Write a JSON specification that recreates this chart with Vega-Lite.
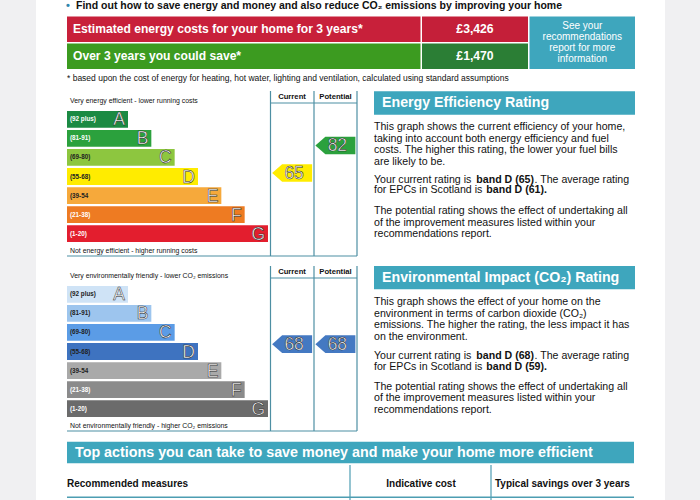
{
  "$schema": "https://vega.github.io/schema/vega-lite/v6.json",
  "width": 700,
  "height": 500,
  "autosize": {"type": "none"},
  "padding": 0,
  "background": "#f0f0f2",
  "config": {
    "view": {"stroke": null},
    "axis": {"disable": true},
    "legend": {"disable": true},
    "text": {"font": "Liberation Sans"},
    "locale": {"number": {"decimal": ".", "thousands": ",", "grouping": [3], "currency": ["£", ""]}}
  },
  "datasets": {
    "page": [{"document": "Energy Performance Certificate summary"}],
    "costs": [
      {"item": "Estimated energy costs for your home for 3 years*", "amount": 3426},
      {"item": "Over 3 years you could save*", "amount": 1470}
    ],
    "bands": [
      {"band": "A", "range": "(92 plus)", "rank": 1},
      {"band": "B", "range": "(81-91)", "rank": 2},
      {"band": "C", "range": "(69-80)", "rank": 3},
      {"band": "D", "range": "(55-68)", "rank": 4},
      {"band": "E", "range": "(39-54", "rank": 5},
      {"band": "F", "range": "(21-38)", "rank": 6},
      {"band": "G", "range": "(1-20)", "rank": 7}
    ],
    "energyRatings": [
      {"column": "Current", "rating": 65, "band": "D"},
      {"column": "Potential", "rating": 82, "band": "B"}
    ],
    "co2Ratings": [
      {"column": "Current", "rating": 68, "band": "D"},
      {"column": "Potential", "rating": 68, "band": "D"}
    ]
  },
  "resolve": {"scale": {"x": "independent", "y": "independent", "color": "independent", "fill": "independent"}},
  "layer": [
    {
      "data": {"name": "page"},
      "layer": [
        {"mark": {"type": "rect", "color": "#ffffff"}, "encoding": {
          "x": {"datum": 36, "type": "quantitative", "scale": {"domain": [0, 700], "range": [0, 700], "nice": false, "zero": false}},
          "x2": {"datum": 665},
          "y": {"datum": 0, "type": "quantitative", "scale": {"domain": [0, 500], "range": [0, 500], "nice": false, "zero": false}},
          "y2": {"datum": 500}}},
        {"mark": {"type": "text", "text": "•", "align": "left", "baseline": "middle", "fontSize": 11, "fontWeight": "bold", "color": "#2f86ad"}, "encoding": {"x": {"datum": 66}, "y": {"datum": 6}}},
        {"mark": {"type": "text", "text": "Find out how to save energy and money and also reduce CO₂ emissions by improving your home", "align": "left", "baseline": "middle", "fontSize": 10.5, "fontWeight": "bold", "color": "#111111"}, "encoding": {"x": {"datum": 76}, "y": {"datum": 6}}},
        {"mark": {"type": "rect", "color": "#3ea6bd"}, "encoding": {"x": {"datum": 529.5}, "x2": {"datum": 635}, "y": {"datum": 16.5}, "y2": {"datum": 69}}},
        {"mark": {"type": "text", "text": ["See your", "recommendations", "report for more", "information"], "align": "center", "baseline": "top", "fontSize": 10, "lineHeight": 11, "color": "#ffffff"}, "encoding": {"x": {"datum": 582.3}, "y": {"datum": 20.5}}},
        {"mark": {"type": "text", "text": "* based upon the cost of energy for heating, hot water, lighting and ventilation, calculated using standard assumptions", "align": "left", "baseline": "middle", "fontSize": 8.5, "color": "#111111"}, "encoding": {"x": {"datum": 67}, "y": {"datum": 78}}},

        {"mark": {"type": "rule", "color": "#4d8fa3", "strokeWidth": 1.2}, "encoding": {"x": {"datum": 270.5}, "y": {"datum": 91}, "y2": {"datum": 256}}},
        {"mark": {"type": "rule", "color": "#4d8fa3", "strokeWidth": 1.2}, "encoding": {"x": {"datum": 314}, "y": {"datum": 91}, "y2": {"datum": 256}}},
        {"mark": {"type": "rule", "color": "#4d8fa3", "strokeWidth": 1.2}, "encoding": {"x": {"datum": 357}, "y": {"datum": 91}, "y2": {"datum": 256}}},
        {"mark": {"type": "rule", "color": "#4d8fa3", "strokeWidth": 1.2}, "encoding": {"x": {"datum": 270.5}, "x2": {"datum": 357}, "y": {"datum": 103}}},
        {"mark": {"type": "rule", "color": "#4d8fa3", "strokeWidth": 1.2}, "encoding": {"x": {"datum": 67}, "x2": {"datum": 357}, "y": {"datum": 256}}},
        {"mark": {"type": "text", "text": "Current", "align": "center", "baseline": "middle", "fontSize": 7.7, "fontWeight": "bold", "color": "#111111"}, "encoding": {"x": {"datum": 292}, "y": {"datum": 97}}},
        {"mark": {"type": "text", "text": "Potential", "align": "center", "baseline": "middle", "fontSize": 7.7, "fontWeight": "bold", "color": "#111111"}, "encoding": {"x": {"datum": 335.5}, "y": {"datum": 97}}},
        {"mark": {"type": "text", "text": "Very energy efficient - lower running costs", "align": "left", "baseline": "middle", "fontSize": 6.9, "color": "#111111"}, "encoding": {"x": {"datum": 70}, "y": {"datum": 101}}},
        {"mark": {"type": "text", "text": "Not energy efficient - higher running costs", "align": "left", "baseline": "middle", "fontSize": 6.9, "color": "#111111"}, "encoding": {"x": {"datum": 70}, "y": {"datum": 251}}},
        {"mark": {"type": "rect", "color": "#3ea6bd"}, "encoding": {"x": {"datum": 374}, "x2": {"datum": 635}, "y": {"datum": 91.3}, "y2": {"datum": 114.7}}},
        {"mark": {"type": "text", "text": "Energy Efficiency Rating", "align": "left", "baseline": "middle", "fontSize": 14.2, "fontWeight": "bold", "color": "#ffffff"}, "encoding": {"x": {"datum": 382}, "y": {"datum": 103}}},
        {"mark": {"type": "text", "text": ["This graph shows the current efficiency of your home,", "taking into account both energy efficiency and fuel", "costs. The higher this rating, the lower your fuel bills", "are likely to be."], "align": "left", "baseline": "top", "fontSize": 10.6, "lineHeight": 11.6, "color": "#111111"}, "encoding": {"x": {"datum": 374}, "y": {"datum": 122}}},
        {"mark": {"type": "text", "text": "Your current rating is", "align": "left", "baseline": "middle", "fontSize": 10.6, "color": "#111111"}, "encoding": {"x": {"datum": 374}, "y": {"datum": 179.7}}},
        {"mark": {"type": "text", "text": "band D (65)", "align": "left", "baseline": "middle", "fontSize": 10.6, "fontWeight": "bold", "color": "#111111"}, "encoding": {"x": {"datum": 476.3}, "y": {"datum": 179.7}}},
        {"mark": {"type": "text", "text": ". The average rating", "align": "left", "baseline": "middle", "fontSize": 10.6, "color": "#111111"}, "encoding": {"x": {"datum": 534.5}, "y": {"datum": 179.7}}},
        {"mark": {"type": "text", "text": "for EPCs in Scotland is", "align": "left", "baseline": "middle", "fontSize": 10.6, "color": "#111111"}, "encoding": {"x": {"datum": 374}, "y": {"datum": 190.3}}},
        {"mark": {"type": "text", "text": "band D (61).", "align": "left", "baseline": "middle", "fontSize": 10.6, "fontWeight": "bold", "color": "#111111"}, "encoding": {"x": {"datum": 486.3}, "y": {"datum": 190.3}}},
        {"mark": {"type": "text", "text": ["The potential rating shows the effect of undertaking all", "of the improvement measures listed within your", "recommendations report."], "align": "left", "baseline": "top", "fontSize": 10.6, "lineHeight": 11.6, "color": "#111111"}, "encoding": {"x": {"datum": 374}, "y": {"datum": 206.2}}},

        {"mark": {"type": "rule", "color": "#4d8fa3", "strokeWidth": 1.2}, "encoding": {"x": {"datum": 270.5}, "y": {"datum": 266}, "y2": {"datum": 431}}},
        {"mark": {"type": "rule", "color": "#4d8fa3", "strokeWidth": 1.2}, "encoding": {"x": {"datum": 314}, "y": {"datum": 266}, "y2": {"datum": 431}}},
        {"mark": {"type": "rule", "color": "#4d8fa3", "strokeWidth": 1.2}, "encoding": {"x": {"datum": 357}, "y": {"datum": 266}, "y2": {"datum": 431}}},
        {"mark": {"type": "rule", "color": "#4d8fa3", "strokeWidth": 1.2}, "encoding": {"x": {"datum": 270.5}, "x2": {"datum": 357}, "y": {"datum": 278}}},
        {"mark": {"type": "rule", "color": "#4d8fa3", "strokeWidth": 1.2}, "encoding": {"x": {"datum": 67}, "x2": {"datum": 357}, "y": {"datum": 431}}},
        {"mark": {"type": "text", "text": "Current", "align": "center", "baseline": "middle", "fontSize": 7.7, "fontWeight": "bold", "color": "#111111"}, "encoding": {"x": {"datum": 292}, "y": {"datum": 272}}},
        {"mark": {"type": "text", "text": "Potential", "align": "center", "baseline": "middle", "fontSize": 7.7, "fontWeight": "bold", "color": "#111111"}, "encoding": {"x": {"datum": 335.5}, "y": {"datum": 272}}},
        {"mark": {"type": "text", "text": "Very environmentally friendly - lower CO₂ emissions", "align": "left", "baseline": "middle", "fontSize": 6.9, "color": "#111111"}, "encoding": {"x": {"datum": 70}, "y": {"datum": 276}}},
        {"mark": {"type": "text", "text": "Not environmentally friendly - higher CO₂ emissions", "align": "left", "baseline": "middle", "fontSize": 6.9, "color": "#111111"}, "encoding": {"x": {"datum": 70}, "y": {"datum": 426}}},
        {"mark": {"type": "rect", "color": "#3ea6bd"}, "encoding": {"x": {"datum": 374}, "x2": {"datum": 635}, "y": {"datum": 266}, "y2": {"datum": 289.3}}},
        {"mark": {"type": "text", "text": "Environmental Impact (CO₂) Rating", "align": "left", "baseline": "middle", "fontSize": 14.2, "fontWeight": "bold", "color": "#ffffff"}, "encoding": {"x": {"datum": 382}, "y": {"datum": 277.7}}},
        {"mark": {"type": "text", "text": ["This graph shows the effect of your home on the", "environment in terms of carbon dioxide (CO₂)", "emissions. The higher the rating, the less impact it has", "on the environment."], "align": "left", "baseline": "top", "fontSize": 10.6, "lineHeight": 11.6, "color": "#111111"}, "encoding": {"x": {"datum": 374}, "y": {"datum": 297}}},
        {"mark": {"type": "text", "text": "Your current rating is", "align": "left", "baseline": "middle", "fontSize": 10.6, "color": "#111111"}, "encoding": {"x": {"datum": 374}, "y": {"datum": 356}}},
        {"mark": {"type": "text", "text": "band D (68)", "align": "left", "baseline": "middle", "fontSize": 10.6, "fontWeight": "bold", "color": "#111111"}, "encoding": {"x": {"datum": 476.3}, "y": {"datum": 356}}},
        {"mark": {"type": "text", "text": ". The average rating", "align": "left", "baseline": "middle", "fontSize": 10.6, "color": "#111111"}, "encoding": {"x": {"datum": 534.5}, "y": {"datum": 356}}},
        {"mark": {"type": "text", "text": "for EPCs in Scotland is", "align": "left", "baseline": "middle", "fontSize": 10.6, "color": "#111111"}, "encoding": {"x": {"datum": 374}, "y": {"datum": 366.5}}},
        {"mark": {"type": "text", "text": "band D (59).", "align": "left", "baseline": "middle", "fontSize": 10.6, "fontWeight": "bold", "color": "#111111"}, "encoding": {"x": {"datum": 486.3}, "y": {"datum": 366.5}}},
        {"mark": {"type": "text", "text": ["The potential rating shows the effect of undertaking all", "of the improvement measures listed within your", "recommendations report."], "align": "left", "baseline": "top", "fontSize": 10.6, "lineHeight": 11.6, "color": "#111111"}, "encoding": {"x": {"datum": 374}, "y": {"datum": 381.5}}},

        {"mark": {"type": "rect", "color": "#3ea6bd"}, "encoding": {"x": {"datum": 67}, "x2": {"datum": 634}, "y": {"datum": 441.7}, "y2": {"datum": 463.3}}},
        {"mark": {"type": "text", "text": "Top actions you can take to save money and make your home more efficient", "align": "left", "baseline": "middle", "fontSize": 14.3, "fontWeight": "bold", "color": "#ffffff"}, "encoding": {"x": {"datum": 75}, "y": {"datum": 452.5}}},
        {"mark": {"type": "rule", "color": "#4d9db2", "strokeWidth": 1.2}, "encoding": {"x": {"datum": 350}, "y": {"datum": 465}, "y2": {"datum": 500}}},
        {"mark": {"type": "rule", "color": "#4d9db2", "strokeWidth": 1.2}, "encoding": {"x": {"datum": 491}, "y": {"datum": 465}, "y2": {"datum": 500}}},
        {"mark": {"type": "rule", "color": "#4d9db2", "strokeWidth": 1.5}, "encoding": {"x": {"datum": 67}, "x2": {"datum": 634}, "y": {"datum": 497.3}}},
        {"mark": {"type": "text", "text": "Recommended measures", "align": "left", "baseline": "middle", "fontSize": 10, "fontWeight": "bold", "color": "#111111"}, "encoding": {"x": {"datum": 67}, "y": {"datum": 484.3}}},
        {"mark": {"type": "text", "text": "Indicative cost", "align": "center", "baseline": "middle", "fontSize": 10, "fontWeight": "bold", "color": "#111111"}, "encoding": {"x": {"datum": 421}, "y": {"datum": 484.3}}},
        {"mark": {"type": "text", "text": "Typical savings over 3 years", "align": "left", "baseline": "middle", "fontSize": 10, "fontWeight": "bold", "color": "#111111"}, "encoding": {"x": {"datum": 495}, "y": {"datum": 484.3}}}
      ]
    },
    {
      "data": {"name": "costs"},
      "encoding": {
        "y": {"field": "item", "type": "nominal", "scale": {"type": "band", "domain": ["Estimated energy costs for your home for 3 years*", "Over 3 years you could save*"], "range": [16.5, 69], "paddingInner": 0.06, "paddingOuter": 0}}
      },
      "layer": [
        {"mark": {"type": "rect"}, "encoding": {
          "x": {"datum": 67, "type": "quantitative", "scale": {"domain": [0, 700], "range": [0, 700], "nice": false, "zero": false}},
          "x2": {"datum": 420.5},
          "color": {"field": "item", "type": "nominal", "scale": {"domain": ["Estimated energy costs for your home for 3 years*", "Over 3 years you could save*"], "range": ["#c8203a", "#3c9b20"]}}}},
        {"mark": {"type": "rect"}, "encoding": {
          "x": {"datum": 422},
          "x2": {"datum": 528},
          "fill": {"field": "item", "type": "nominal", "scale": {"domain": ["Estimated energy costs for your home for 3 years*", "Over 3 years you could save*"], "range": ["#c41f39", "#2b7e35"]}}}},
        {"mark": {"type": "text", "align": "left", "baseline": "middle", "fontSize": 12.1, "fontWeight": "bold", "color": "#ffffff"}, "encoding": {"x": {"datum": 73}, "text": {"field": "item", "type": "nominal"}}},
        {"mark": {"type": "text", "align": "center", "baseline": "middle", "fontSize": 12.2, "fontWeight": "bold", "color": "#ffffff"}, "encoding": {"x": {"datum": 475}, "text": {"field": "amount", "type": "quantitative", "format": "$,.0f"}}}
      ]
    },
    {
      "data": {"name": "bands"},
      "encoding": {
        "y": {"field": "band", "type": "nominal", "scale": {"type": "band", "domain": ["A", "B", "C", "D", "E", "F", "G"], "range": [111, 242], "paddingInner": 0.12, "paddingOuter": 0}}
      },
      "layer": [
        {"mark": {"type": "bar"}, "encoding": {
          "x": {"field": "rank", "type": "quantitative", "scale": {"domain": [1, 7], "range": [128, 268], "nice": false, "zero": false}},
          "x2": {"datum": -1.614},
          "color": {"field": "band", "type": "nominal", "scale": {"domain": ["A", "B", "C", "D", "E", "F", "G"], "range": ["#1b8a43", "#2ba13d", "#8dc63f", "#ffec00", "#f6a93b", "#ee7b22", "#e31e2e"]}}}},
        {"mark": {"type": "text", "align": "left", "baseline": "middle", "dx": 3, "fontSize": 6.3, "fontWeight": "bold"}, "encoding": {
          "x": {"datum": -1.614},
          "text": {"field": "range", "type": "nominal"},
          "fill": {"field": "band", "type": "nominal", "scale": {"domain": ["A", "B", "C", "D", "E", "F", "G"], "range": ["#ffffff", "#ffffff", "#222222", "#222222", "#222222", "#ffffff", "#ffffff"]}}}},
        {"mark": {"type": "text", "align": "right", "baseline": "middle", "dx": -3, "dy": 1, "fontSize": 17.5, "fill": "#ffffff", "stroke": "#1a1a1a", "strokeWidth": 0.5}, "encoding": {
          "x": {"field": "rank", "type": "quantitative"},
          "text": {"field": "band", "type": "nominal"}}}
      ]
    },
    {
      "data": {"name": "energyRatings"},
      "encoding": {
        "x": {"field": "column", "type": "nominal", "scale": {"type": "band", "domain": ["Current", "Potential"], "range": [270.5, 357], "paddingInner": 0, "paddingOuter": 0}},
        "y": {"field": "rating", "type": "quantitative", "scale": {"domain": [0, 100], "range": [278.3, 116.3], "nice": false, "zero": false}}
      },
      "layer": [
        {"mark": {"type": "point", "shape": "M -1 0 L -0.5 -0.44 L 1 -0.44 L 1 0.44 L -0.5 0.44 Z", "filled": true, "opacity": 1, "size": 1600, "strokeWidth": 0}, "encoding": {
          "color": {"field": "band", "type": "nominal", "scale": {"domain": ["A", "B", "C", "D", "E", "F", "G"], "range": ["#1b8a43", "#2ba13d", "#8dc63f", "#ffec00", "#f6a93b", "#ee7b22", "#e31e2e"]}}}},
        {"mark": {"type": "text", "align": "center", "baseline": "middle", "dx": 2, "dy": 1, "fontSize": 17.5, "fill": "#ffffff", "stroke": "#1a1a1a", "strokeWidth": 0.5}, "encoding": {
          "text": {"field": "rating", "type": "quantitative"}}}
      ]
    },
    {
      "data": {"name": "bands"},
      "encoding": {
        "y": {"field": "band", "type": "nominal", "scale": {"type": "band", "domain": ["A", "B", "C", "D", "E", "F", "G"], "range": [286, 417], "paddingInner": 0.12, "paddingOuter": 0}}
      },
      "layer": [
        {"mark": {"type": "bar"}, "encoding": {
          "x": {"field": "rank", "type": "quantitative", "scale": {"domain": [1, 7], "range": [128, 268], "nice": false, "zero": false}},
          "x2": {"datum": -1.614},
          "color": {"field": "band", "type": "nominal", "scale": {"domain": ["A", "B", "C", "D", "E", "F", "G"], "range": ["#cfe3f6", "#9dc5ee", "#5b9ce6", "#3e73c0", "#a9a9a9", "#8b8b8b", "#6b6b6b"]}}}},
        {"mark": {"type": "text", "align": "left", "baseline": "middle", "dx": 3, "fontSize": 6.3, "fontWeight": "bold"}, "encoding": {
          "x": {"datum": -1.614},
          "text": {"field": "range", "type": "nominal"},
          "fill": {"field": "band", "type": "nominal", "scale": {"domain": ["A", "B", "C", "D", "E", "F", "G"], "range": ["#222222", "#222222", "#222222", "#222222", "#222222", "#ffffff", "#ffffff"]}}}},
        {"mark": {"type": "text", "align": "right", "baseline": "middle", "dx": -3, "dy": 1, "fontSize": 17.5, "fill": "#ffffff", "stroke": "#1a1a1a", "strokeWidth": 0.5}, "encoding": {
          "x": {"field": "rank", "type": "quantitative"},
          "text": {"field": "band", "type": "nominal"}}}
      ]
    },
    {
      "data": {"name": "co2Ratings"},
      "encoding": {
        "x": {"field": "column", "type": "nominal", "scale": {"type": "band", "domain": ["Current", "Potential"], "range": [270.5, 357], "paddingInner": 0, "paddingOuter": 0}},
        "y": {"field": "rating", "type": "quantitative", "scale": {"domain": [0, 100], "range": [454.3, 292.3], "nice": false, "zero": false}}
      },
      "layer": [
        {"mark": {"type": "point", "shape": "M -1 0 L -0.5 -0.44 L 1 -0.44 L 1 0.44 L -0.5 0.44 Z", "filled": true, "opacity": 1, "size": 1600, "strokeWidth": 0}, "encoding": {
          "color": {"field": "band", "type": "nominal", "scale": {"domain": ["A", "B", "C", "D", "E", "F", "G"], "range": ["#cfe3f6", "#9dc5ee", "#5b9ce6", "#4479c2", "#a9a9a9", "#8b8b8b", "#6b6b6b"]}}}},
        {"mark": {"type": "text", "align": "center", "baseline": "middle", "dx": 2, "dy": 1, "fontSize": 17.5, "fill": "#ffffff", "stroke": "#1a1a1a", "strokeWidth": 0.5}, "encoding": {
          "text": {"field": "rating", "type": "quantitative"}}}
      ]
    }
  ]
}
